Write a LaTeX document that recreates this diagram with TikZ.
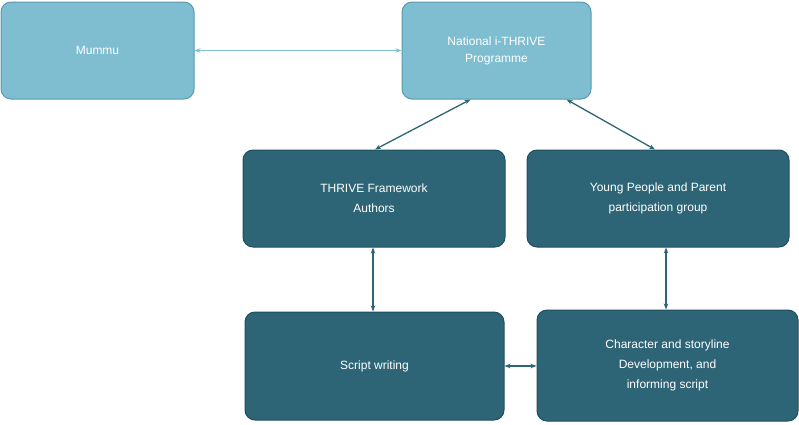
\documentclass[tikz,border=0pt]{standalone}
\usepackage{fontspec}
\setmainfont{Liberation Sans}
\usetikzlibrary{arrows.meta}
\definecolor{lightb}{HTML}{7FBDD0}
\definecolor{lightbd}{HTML}{5A9BB0}
\definecolor{darkt}{HTML}{2D6577}
\definecolor{darktd}{HTML}{1F4E5E}
\begin{document}
\begin{tikzpicture}[x=1pt,y=-1pt,
  lbox/.style={draw=lightbd,fill=lightb,rounded corners=10pt,line width=1pt,text=white,align=center,font=\fontsize{12}{17}\selectfont},
  dbox/.style={draw=darktd,fill=darkt,rounded corners=10pt,line width=1pt,text=white,align=center,font=\fontsize{12}{20}\selectfont},
  la/.style={{Stealth[length=6pt]}-{Stealth[length=6pt]},draw=lightb,line width=1pt},
  da/.style={{Stealth[length=6pt]}-{Stealth[length=6pt]},draw=darkt,line width=1.3pt}]
\useasboundingbox (0,0) rectangle (799,424);
\node[lbox,minimum width=193pt,minimum height=97pt] (m) at (97.5,50.5) {Mummu};
\node[lbox,minimum width=189pt,minimum height=97pt] (n) at (496.5,50.5) {National i-THRIVE\\Programme};
\node[dbox,minimum width=262pt,minimum height=97pt] (t) at (374,198.5) {THRIVE Framework\\Authors};
\node[dbox,minimum width=262pt,minimum height=97pt] (y) at (658,198.5) {Young People and Parent\\participation group};
\node[dbox,minimum width=259pt,minimum height=108pt] (s) at (374.5,366) {Script writing};
\node[dbox,minimum width=261pt,minimum height=111pt] (c) at (667.5,365.5) {Character and storyline\\Development, and\\informing script};
\draw[la] (m.east) -- (n.west);
\draw[da] ([xshift=-26pt]n.south) -- ([xshift=1pt]t.north);
\draw[da] ([xshift=70pt]n.south) -- ([xshift=-3pt]y.north);
\draw[da] ([xshift=-1pt]t.south) -- ([xshift=-1.5pt]s.north);
\draw[da] ([xshift=8pt]y.south) -- ([xshift=-1.5pt]c.north);
\draw[da] (s.east) -- (s.east -| c.west);
\end{tikzpicture}
\end{document}
